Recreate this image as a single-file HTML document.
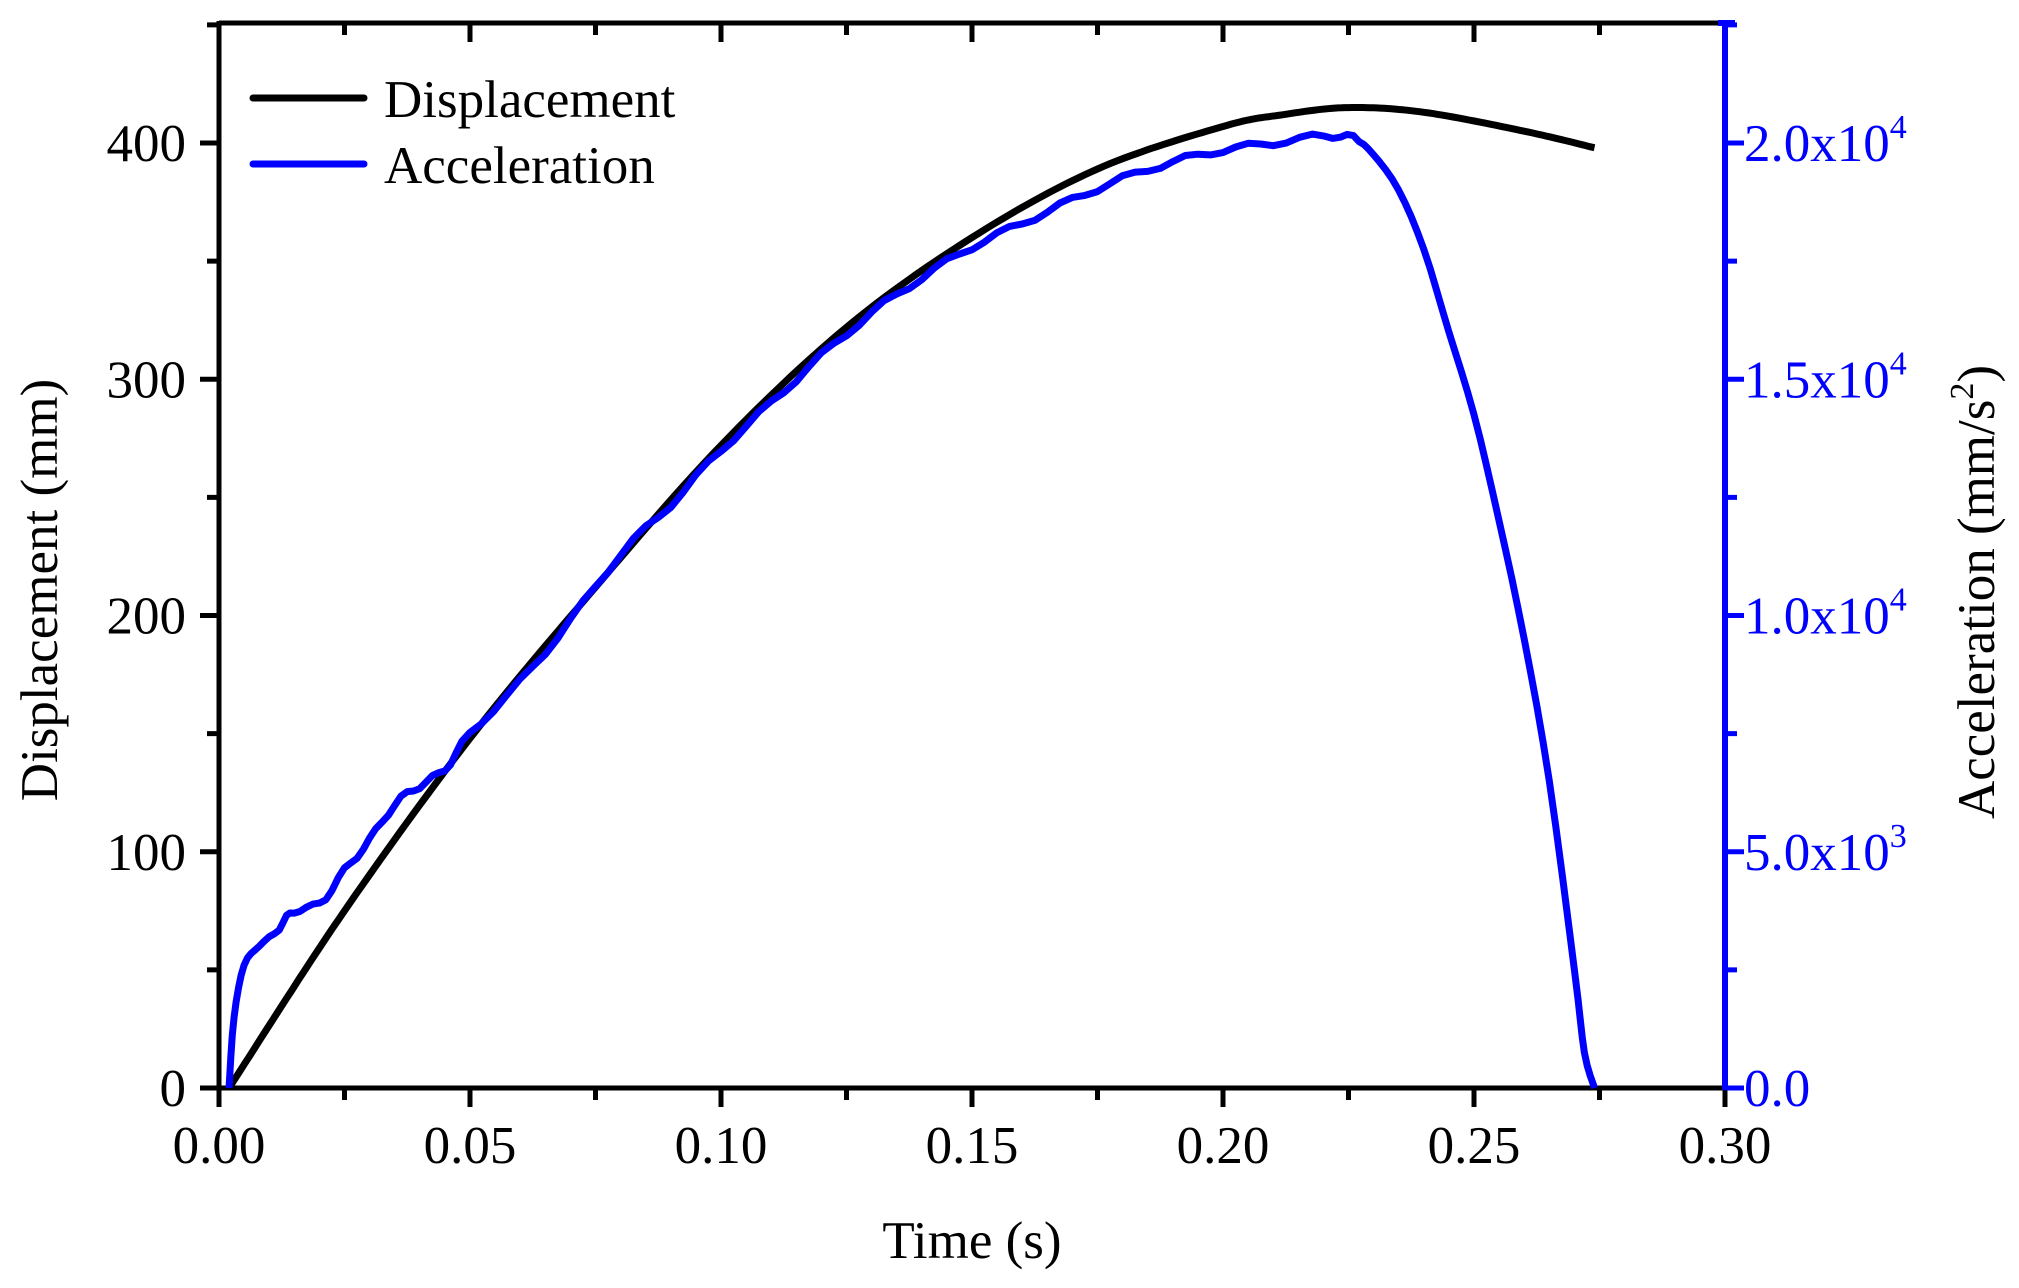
<!DOCTYPE html>
<html><head><meta charset="utf-8"><style>
html,body{margin:0;padding:0;background:#fff}
svg{display:block}
text{font-family:"Liberation Serif",serif}
</style></head><body>
<svg id="s" width="2019" height="1288" viewBox="0 0 2019 1288" xmlns="http://www.w3.org/2000/svg">
<g id="g"></g>
<g font-size="53" fill="#000">
<text x="972" y="1258" text-anchor="middle">Time (s)</text>
<text transform="translate(57,590) rotate(-90)" text-anchor="middle">Displacement (mm)</text>
<text transform="translate(1994,592) rotate(-90)" text-anchor="middle">Acceleration (mm/s<tspan dy="-21" font-size="34">2</tspan><tspan dy="21">)</tspan></text>
<text x="384" y="117">Displacement</text>
<text x="384" y="183">Acceleration</text>
</g>
<line x1="253" y1="98" x2="364" y2="98" stroke="#000" stroke-width="7" stroke-linecap="round"/>
<line x1="253" y1="164" x2="364" y2="164" stroke="#0000ff" stroke-width="7" stroke-linecap="round"/>
</svg>
<script>
var g=document.getElementById('g'),NS='http://www.w3.org/2000/svg';
function X(t){return 219+t*5020}function Y(d){return 1088-d*2.3625}
function el(n,a,p){var e=document.createElementNS(NS,n);for(var k in a)e.setAttribute(k,a[k]);(p||g).appendChild(e);return e}
function txt(x,y,s,anc,col){var e=el('text',{x:x,y:y,'font-size':53,'text-anchor':anc,fill:col});e.textContent=s;return e}
function interp(P,n){var out=[];for(var i=0;i<P.length-1;i++){var p0=P[Math.max(i-1,0)],p1=P[i],p2=P[i+1],p3=P[Math.min(i+2,P.length-1)];for(var j=0;j<n;j++){var u=j/n,u2=u*u,u3=u2*u;function c(a,b,c_,d){return 0.5*(2*b+(-a+c_)*u+(2*a-5*b+4*c_-d)*u2+(-a+3*b-3*c_+d)*u3)}out.push([c(p0[0],p1[0],p2[0],p3[0]),c(p0[1],p1[1],p2[1],p3[1])])}}out.push(P[P.length-1]);return out}
var D=[[0.002,0],[0.025,75],[0.05,148],[0.075,212],[0.1,272],[0.125,322],[0.15,360],[0.175,389],[0.2,407],[0.212,412],[0.225,415],[0.24,413],[0.26,405],[0.274,398]];
var A=[[0.002,0],[0.003,30],[0.005,52],[0.008,60],[0.012,68],[0.015,75],[0.02,78],[0.025,92],[0.03,105],[0.035,120],[0.04,128],[0.045,135],[0.05,150],[0.06,172],[0.07,198],[0.08,226],[0.09,247],[0.1,270],[0.11,290],[0.12,310],[0.13,328],[0.14,343],[0.15,356],[0.16,366],[0.17,376],[0.18,385],[0.19,392],[0.2,397],[0.21,400],[0.22,403],[0.226,402],[0.23,395],[0.235,380],[0.24,355],[0.245,320],[0.25,285],[0.255,240],[0.26,190],[0.265,130],[0.27,50],[0.272,15],[0.274,0]];
function pl(P,n,col,jit){var pts=interp(P,n).map(function(p,i){var w=jit&&p[0]>0.01&&p[0]<0.228?Math.sin(i*1.3)*3:0;return X(p[0]).toFixed(1)+','+(Y(p[1])+w).toFixed(1)}).join(' ');el('polyline',{points:pts,fill:'none',stroke:col,'stroke-width':7,'stroke-linejoin':'round'})}
el('line',{x1:219,y1:23,x2:1725,y2:23,stroke:'#000','stroke-width':5});
el('line',{x1:219,y1:1088,x2:1725,y2:1088,stroke:'#000','stroke-width':5});
el('line',{x1:219,y1:21,x2:219,y2:1106,stroke:'#000','stroke-width':5});
for(var i=0;i<=12;i++){var t=i*0.025,x=X(t),maj=i%2==0;
 el('line',{x1:x,y1:1088,x2:x,y2:1088+(maj?19:12),stroke:'#000','stroke-width':5});
 if(i>0&&i<12)el('line',{x1:x,y1:23,x2:x,y2:23+(maj?19:12),stroke:'#000','stroke-width':5});
 if(maj)txt(x,1163,t.toFixed(2),'middle','#000');}
for(var k=0;k<=9;k++){var d=k*50,y=Y(d),maj=k%2==0;
 el('line',{x1:219,y1:y,x2:219-(maj?19:12),y2:y,stroke:'#000','stroke-width':5});
 if(maj)txt(186,y+18,String(d),'end','#000');}
pl(D,20,'#000',false);pl(A,4,'#0000ff',true);
el('line',{x1:1725,y1:21,x2:1725,y2:1090,stroke:'#0000ff','stroke-width':6});
el('line',{x1:1718,y1:23,x2:1735,y2:23,stroke:'#0000ff','stroke-width':6});
var lab=['0.0','5.0x10','1.0x10','1.5x10','2.0x10'],ex=['','3','4','4','4'];
for(var k=0;k<=9;k++){var y=Y(k*50),maj=k%2==0;
 el('line',{x1:1725,y1:y,x2:1725+(maj?19:12),y2:y,stroke:'#0000ff','stroke-width':5});
 if(maj){var e=txt(1744,y+18,lab[k/2],'start','#0000ff');if(ex[k/2]){var ts=document.createElementNS(NS,'tspan');ts.setAttribute('dy','-23');ts.setAttribute('font-size','34');ts.textContent=ex[k/2];e.appendChild(ts);}}}
</script>
</body></html>
